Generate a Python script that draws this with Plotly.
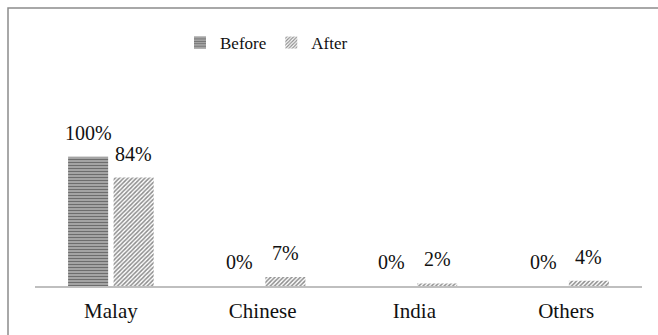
import plotly.graph_objects as go

# Ethnic composition before and after
categories = ["Malay", "Chinese", "India", "Others"]
before = [1.00, 0.00, 0.00, 0.00]
after = [0.84, 0.07, 0.02, 0.04]
series_names = ["Before", "After"]

SERIF = "Liberation Serif"

fig = go.Figure()
fig.add_trace(go.Bar(
    name=series_names[0], x=categories, y=before,
    marker=dict(color="white", line=dict(width=0),
                pattern=dict(shape="-", fgcolor="#111111", bgcolor="#c8c8c8",
                             size=3, solidity=0.6)),
))
fig.add_trace(go.Bar(
    name=series_names[1], x=categories, y=after,
    marker=dict(color="white", line=dict(width=0),
                pattern=dict(shape="/", fgcolor="#1a1a1a", bgcolor="white",
                             size=3, solidity=0.5)),
))

# Value labels above each bar
offset = 22.75
for vals, sh in ((before, -offset), (after, offset)):
    for cat, v in zip(categories, vals):
        fig.add_annotation(x=cat, y=v, xref="x", yref="y", text=f"{round(v*100)}%",
                           showarrow=False, yanchor="bottom", xshift=sh, yshift=11,
                           font=dict(family=SERIF, size=20, color="#111111"))

# Chart frame
L, R, T, B = 35, 16, 131, 49
W, H = 658, 335
pw, ph = W - L - R, H - T - B
fig.add_shape(type="rect", xref="paper", yref="paper",
              x0=(8 - L) / pw, x1=(W + 4 - L) / pw,
              y0=(H - B - (H + 4)) / ph, y1=(H - B - 8) / ph,
              line=dict(color="#8c8c8c", width=1.5), fillcolor="rgba(0,0,0,0)", layer="below")

fig.update_layout(
    width=W, height=H,
    margin=dict(l=L, r=R, t=T, b=B),
    paper_bgcolor="white", plot_bgcolor="white",
    barmode="group", bargap=0.4, bargroupgap=0.12,
    legend=dict(orientation="h", x=(180 - L) / pw, xanchor="left",
                y=(H - B - 43) / ph, yanchor="middle",
                font=dict(family=SERIF, size=17, color="#111111"), itemwidth=30,
                bgcolor="rgba(0,0,0,0)"),
    xaxis=dict(showline=True, linecolor="#bfbfbf", linewidth=1.5, ticks="",
               showgrid=False, ticklabelstandoff=5,
               tickfont=dict(family=SERIF, size=21, color="#111111"),
               fixedrange=True),
    yaxis=dict(range=[0, 1.2], visible=False, showgrid=False, zeroline=False, fixedrange=True),
)

fig.write_html("out.html")
